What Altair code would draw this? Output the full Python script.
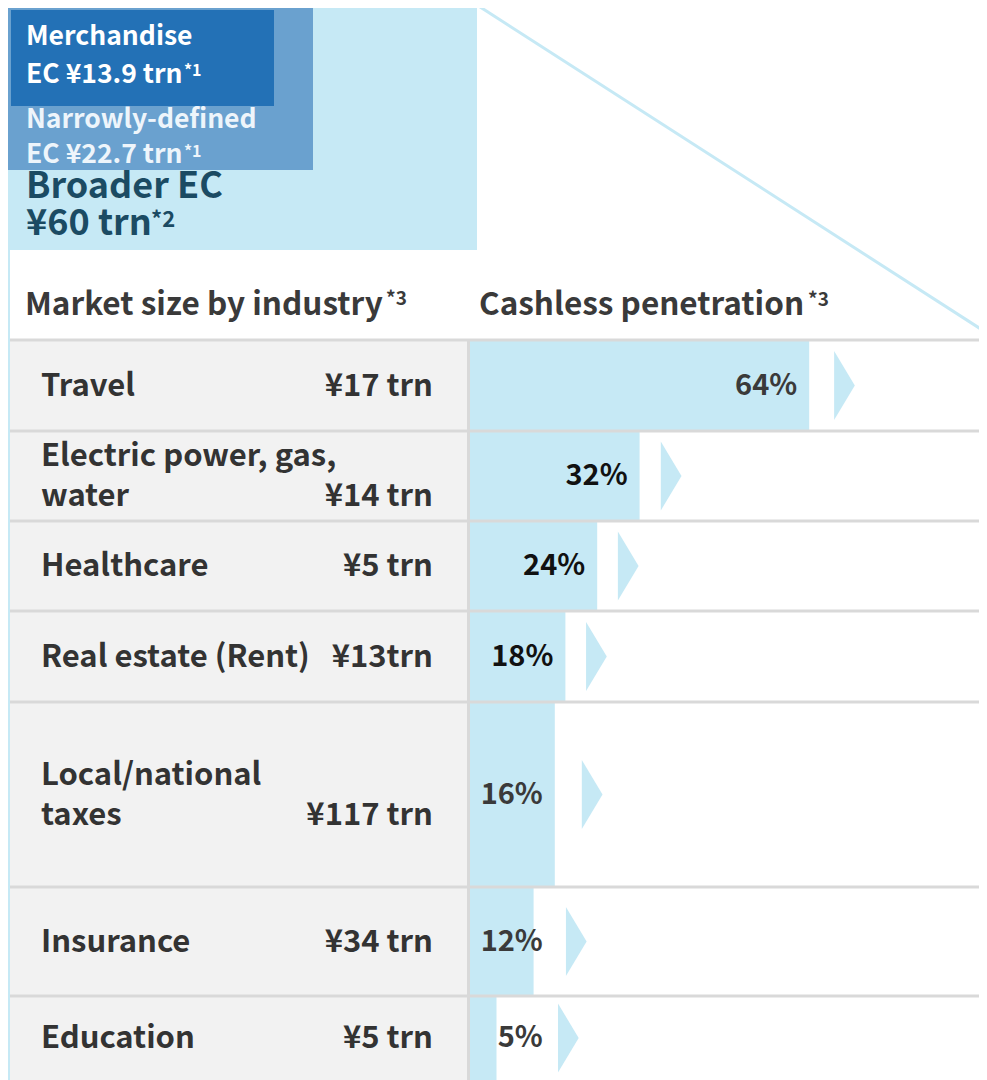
import altair as alt
import pandas as pd

# ---------------- data ----------------
industries = [
    "Travel",
    "Electric power, gas,\nwater",
    "Healthcare",
    "Real estate (Rent)",
    "Local/national\ntaxes",
    "Insurance",
    "Education",
]
market_size = ["¥17 trn", "¥14 trn", "¥5 trn", "¥13trn", "¥117 trn", "¥34 trn", "¥5 trn"]
cashless_pct = [64, 32, 24, 18, 16, 12, 5]
arrow_at_pct = [68.7, 36.0, 27.9, 21.9, 21.1, 18.1, 16.6]

ec_texts = ["Merchandise", "EC ¥13.9 trn", "Narrowly-defined", "EC ¥22.7 trn", "Broader EC", "¥60 trn"]
ec_notes = ["*1", "*1", "*2"]
headers = ["Market size by industry", "Cashless penetration"]
header_notes = ["*3", "*3"]

# ---------------- styles ----------------
FONT = "Noto Sans CJK JP"
LIGHT = "#c6e9f5"
MID = "#6aa1cf"
DARK = "#2371b6"
BROAD = "#1b4b63"
GRAY_BG = "#f2f2f2"
GRID = "#d9d9d9"
TXT = "#3a3a3a"
pct_colors = [TXT, "#111111", "#111111", "#111111", TXT, TXT, TXT]
ROW_FS = 31
PCT_FS = 29

# ---------------- layout (page pixels) ----------------
W, H = 971, 1072
OX, OY = 8, 8
row_edges = [340, 431, 521, 611, 702, 887, 996, 1086]
LH = 40  # line height of row labels

px_x = alt.Scale(domain=[OX, OX + W], range=[0, W], nice=False, zero=False)
px_y = alt.Scale(domain=[OY, OY + H], range=[0, H], nice=False, zero=False)
pct_x = alt.Scale(domain=[0, 100], range=[470 - OX, 1000 - OX], nice=False, zero=False)


def PX(f):
    return alt.X(f, type="quantitative", scale=px_x, axis=None)


def PY(f):
    return alt.Y(f, type="quantitative", scale=px_y, axis=None)


def PCT(f):
    return alt.X(f, type="quantitative", scale=pct_x, axis=None)


# boxes
boxes = pd.DataFrame(
    [
        dict(x=8, x2=477, y=4, y2=250, fill=LIGHT),
        dict(x=8, x2=313, y=7, y2=170, fill=MID),
        dict(x=11, x2=274, y=10, y2=106, fill=DARK),
        dict(x=7, x2=10, y=250, y2=row_edges[-1], fill=LIGHT),
        dict(x=10, x2=467, y=row_edges[0], y2=row_edges[-1], fill=GRAY_BG),
    ]
)
box_layer = alt.Chart(boxes).mark_rect().encode(
    x=PX("x"), x2="x2", y=PY("y"), y2="y2", color=alt.Color("fill:N", scale=None)
)

# rows
n_lines = [s.count("\n") + 1 for s in industries]
rows = pd.DataFrame(
    dict(
        name=industries,
        value=market_size,
        pct=cashless_pct,
        arrow=arrow_at_pct,
        pcolor=pct_colors,
        top=row_edges[:-1],
        bottom=row_edges[1:],
        nl=n_lines,
    )
)
rows.loc[rows.index[-1], "bottom"] = 1080  # visible part of the last row
rows["mid"] = (rows["top"] + rows["bottom"]) / 2
rows["name_y"] = rows["mid"] + 10 - (rows["nl"] - 1) * LH / 2
rows["value_y"] = rows["mid"] + 10 + (rows["nl"] - 1) * LH / 2
rows["pct_y"] = rows["mid"] + 9
rows["pct_label"] = rows["pct"].astype(str) + "%"
rows["bottom"] = row_edges[1:]

bar_layer = (
    alt.Chart(rows)
    .transform_calculate(start="0")
    .mark_rect(color=LIGHT)
    .encode(x=PCT("start"), x2="pct", y=PY("top"), y2="bottom")
)

grid = pd.DataFrame(dict(y=row_edges[:-1], x=[10] * 7, x2=[987] * 7))
grid_layer = alt.Chart(grid).mark_rule(color=GRID, strokeWidth=3).encode(
    x=PX("x"), x2="x2", y=PY("y")
)
vline = pd.DataFrame(dict(x=[468.5], y=[row_edges[0]], y2=[row_edges[-1]]))
vline_layer = alt.Chart(vline).mark_rule(color=GRID, strokeWidth=3).encode(
    x=PX("x"), y=PY("y"), y2="y2"
)
diag = pd.DataFrame(dict(x=[477], y=[5], x2=[987], y2=[333]))
diag_layer = alt.Chart(diag).mark_rule(color=LIGHT, strokeWidth=3).encode(
    x=PX("x"), y=PY("y"), x2="x2", y2="y2"
)

arrow_layer = alt.Chart(rows).mark_point(
    shape="M0,-1L0.6,0L0,1Z", filled=True, size=4761, color=LIGHT, opacity=1, strokeWidth=0
).encode(x=PCT("arrow"), y=PY("mid"))

# free texts
free_pos = [  # x, baseline y, font size, colour
    (26, 45, 26.5, "#ffffff"),
    (26, 83, 26.5, "#ffffff"),
    (26, 128, 26.5, "#eef5fb"),
    (26, 163, 26.5, "#eef5fb"),
    (26, 198, 36, BROAD),
    (26, 235, 36, BROAD),
]
note_pos = [
    (184, 76, 16, "#ffffff"),
    (184, 157, 16, "#eef5fb"),
    (151, 227, 22, BROAD),
]
head_pos = [(25, 315, 31.5, TXT), (479, 315, 31.5, TXT)]
head_note_pos = [(386, 305, 19, TXT), (808, 306, 19, TXT)]

free = pd.DataFrame(
    [dict(t=t, x=p[0], y=p[1], s=p[2], c=p[3]) for t, p in zip(ec_texts, free_pos)]
    + [dict(t=t, x=p[0], y=p[1], s=p[2], c=p[3]) for t, p in zip(ec_notes, note_pos)]
    + [dict(t=t, x=p[0], y=p[1], s=p[2], c=p[3]) for t, p in zip(headers, head_pos)]
    + [dict(t=t, x=p[0], y=p[1], s=p[2], c=p[3]) for t, p in zip(header_notes, head_note_pos)]
)
free_layer = alt.Chart(free).mark_text(
    font=FONT, fontWeight="bold", align="left", baseline="alphabetic"
).encode(
    x=PX("x"),
    y=PY("y"),
    text="t:N",
    size=alt.Size("s:Q", scale=None),
    color=alt.Color("c:N", scale=None),
)

name_layer = (
    alt.Chart(rows)
    .transform_calculate(nx="41")
    .mark_text(
        font=FONT, fontWeight="bold", fontSize=ROW_FS, align="left", baseline="alphabetic",
        lineBreak="\n", lineHeight=LH, color="#333333",
    )
    .encode(x=PX("nx"), y=PY("name_y"), text="name:N")
)
value_layer = (
    alt.Chart(rows)
    .transform_calculate(vx="433")
    .mark_text(
        font=FONT, fontWeight="bold", fontSize=ROW_FS, align="right", baseline="alphabetic",
        color="#333333",
    )
    .encode(x=PX("vx"), y=PY("value_y"), text="value:N")
)
pct_layer = (
    alt.Chart(rows)
    .transform_calculate(lx="max(datum.pct, 16)")
    .mark_text(
        font=FONT, fontWeight="bold", fontSize=PCT_FS, align="right", baseline="alphabetic", dx=-12
    )
    .encode(
        x=PCT("lx"), y=PY("pct_y"), text="pct_label:N", color=alt.Color("pcolor:N", scale=None)
    )
)

chart = (
    alt.layer(
        box_layer, bar_layer, grid_layer, vline_layer, diag_layer, arrow_layer,
        free_layer, name_layer, value_layer, pct_layer,
    )
    .resolve_scale(x="independent", y="independent")
    .properties(width=W, height=H, autosize=alt.AutoSizeParams(type="none"), padding=0)
    .configure_view(strokeWidth=0)
)

chart.save("out.html", embed_options={"renderer": "svg", "actions": False})
